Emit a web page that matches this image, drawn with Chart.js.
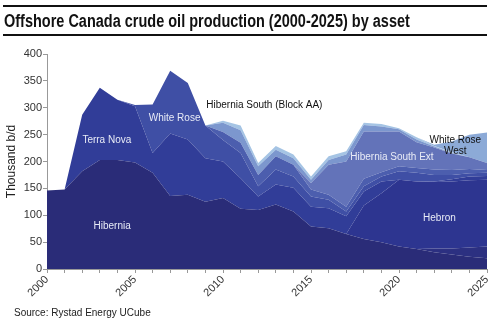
<!DOCTYPE html>
<html>
<head>
<meta charset="utf-8">
<script src="https://cdn.jsdelivr.net/npm/chart.js@4.4.1/dist/chart.umd.min.js"></script>
<style>
  html, body { margin: 0; padding: 0; background: #fff; }
  #wrap { position: relative; width: 500px; height: 325px; overflow: hidden; }
  #chart { position: absolute; left: 0; top: 0; }
  #title {
    position: absolute; left: 3px; top: 5px; width: 484px; height: 27px;
    border-top: 2px solid #111; border-bottom: 2px solid #111;
  }
  #title span {
    position: absolute; left: 1px; top: 0; white-space: nowrap;
    font: bold 18px "Liberation Sans", Arial, sans-serif;
    line-height: 28px; color: #111;
    transform: scaleX(0.805); transform-origin: 0 50%;
  }
  #source {
    position: absolute; left: 14px; top: 307px;
    font: 10px "Liberation Sans", Arial, sans-serif; color: #222;
  }
</style>
</head>
<body>
<div id="wrap">
  <canvas id="chart" width="500" height="325"></canvas>
  <div id="title"><span>Offshore Canada crude oil production (2000-2025) by asset</span></div>
  <div id="source">Source: Rystad Energy UCube</div>
</div>
<script>
// years on the x axis
const years = [2000, 2001, 2002, 2003, 2004, 2005, 2006, 2007, 2008, 2009, 2010, 2011, 2012,
               2013, 2014, 2015, 2016, 2017, 2018, 2019, 2020, 2021, 2022, 2023, 2024, 2025];

// production by asset, thousand b/d
const hibernia     = [146, 148, 182, 203, 203, 198, 179, 136, 138, 125, 132, 112, 110, 120, 107, 79, 76, 65, 56, 50, 42, 37, 31, 27, 23, 20];
const other        = [0, 0, 0, 0, 0, 0, 0, 0, 0, 0, 0, 0, 0, 0, 0, 0, 0, 0, 0, 0, 0, 0, 7, 11, 17, 22];
const hebron       = [0, 0, 0, 0, 0, 0, 0, 0, 0, 0, 0, 0, 0, 0, 0, 0, 0, 0, 62, 91, 124, 126, 124, 125, 125, 124];
const terraNova    = [0, 0, 105, 134, 112, 105, 37, 116, 103, 81, 68, 57, 25, 37, 44, 37, 37, 33, 26, 22, 0, 0, 1, 4, 7, 7];
const whiteRose    = [0, 0, 0, 0, 0, 2, 90, 117, 105, 61, 40, 47, 19, 28, 21, 19, 16, 9, 10, 9, 16, 16, 12, 8, 6, 6];
const northAmethyst = [0, 0, 0, 0, 0, 0, 0, 0, 0, 0, 15, 19, 21, 25, 22, 13, 9, 9, 14, 8, 9, 9, 10, 9, 8, 5];
const hibSouthExt  = [0, 0, 0, 0, 0, 0, 0, 0, 0, 0, 0, 0, 0, 0, 0, 12, 56, 84, 88, 76, 65, 48, 41, 31, 22, 13];
const hibSouthAA   = [0, 0, 0, 0, 0, 0, 0, 0, 0, 0, 17, 23, 16, 12, 12, 6, 9, 13, 12, 9, 4, 5, 2, 1, 0, 0];
const swrExt       = [0, 0, 0, 0, 0, 0, 0, 0, 0, 0, 4, 9, 6, 7, 7, 6, 7, 6, 4, 5, 2, 4, 1, 1, 0, 0];
const whiteRoseWest = [0, 0, 0, 0, 0, 0, 0, 0, 0, 0, 0, 0, 0, 0, 0, 0, 0, 0, 0, 0, 0, 0, 2, 20, 42, 57];

const series = [
    ['Hibernia', hibernia],
    ['Other', other],
    ['Hebron', hebron],
    ['Terra Nova', terraNova],
    ['White Rose', whiteRose],
    ['North Amethyst', northAmethyst],
    ['Hibernia South Ext', hibSouthExt],
    ['Hibernia South (Block AA)', hibSouthAA],
    ['South White Rose Ext', swrExt],
    ['White Rose West', whiteRoseWest]
];

const cores = ['#2a2c78', '#2c3081', '#2d3590', '#313d98', '#3f4fa5',
               '#4c5eae', '#6373b9', '#7c97ce', '#a5c4e4', '#8caad7'];

// text written inside the areas, placed in data units
const rotulos = [
    ['Hibernia', 2003.7, 80, '#e8ebf6'],
    ['Terra Nova', 2003.4, 240, '#e8ebf6'],
    ['White Rose', 2007.25, 280, '#e8ebf6'],
    ['Hibernia South (Block AA)', 2012.35, 304, '#111'],
    ['Hibernia South Ext', 2019.6, 208, '#e8ebf6'],
    ['Hebron', 2022.3, 95, '#e8ebf6'],
    ['White Rose', 2023.2, 239, '#111'],
    ['West', 2023.2, 219, '#111']
];

const rotulosPlugin = {
    id: 'rotulos',
    afterDatasetsDraw(chart) {
        const ctx = chart.ctx;
        const sx = chart.scales.x, sy = chart.scales.y;
        ctx.save();
        ctx.font = '10px "Liberation Sans", Arial, sans-serif';
        ctx.textAlign = 'center';
        ctx.textBaseline = 'middle';
        rotulos.forEach(r => {
            ctx.fillStyle = r[3];
            ctx.fillText(r[0], sx.getPixelForValue(r[1]), sy.getPixelForValue(r[2]));
        });
        ctx.restore();
    }
};

const datasets = series.map((s, i) => ({
    label: s[0],
    data: s[1].map((v, j) => ({ x: years[j], y: v })),
    backgroundColor: cores[i],
    borderWidth: 0,
    pointRadius: 0,
    tension: 0,
    fill: i === 0 ? 'origin' : '-1'
}));

new Chart(document.getElementById('chart'), {
    type: 'line',
    data: { datasets: datasets },
    plugins: [rotulosPlugin],
    options: {
        responsive: false,
        animation: false,
        devicePixelRatio: 1,
        layout: { padding: { top: 54, right: 13, left: 0, bottom: 0 } },
        plugins: { legend: { display: false }, tooltip: { enabled: false } },
        scales: {
            x: {
                type: 'linear',
                min: 2000,
                max: 2025,
                afterFit: s => { s.height = 56; },
                border: { color: '#999' },
                grid: { drawOnChartArea: false, tickLength: 4, color: '#999' },
                ticks: {
                    stepSize: 1,
                    autoSkip: false,
                    minRotation: 45,
                    maxRotation: 45,
                    padding: 0,
                    color: '#333',
                    font: { size: 11, family: '"Liberation Sans", Arial, sans-serif' },
                    callback: v => (v % 5 === 0 ? String(v) : '')
                }
            },
            y: {
                stacked: true,
                min: 0,
                max: 400,
                afterFit: s => { s.width = 47; },
                border: { color: '#999' },
                grid: { drawOnChartArea: false, tickLength: 4, color: '#999' },
                ticks: {
                    stepSize: 50,
                    padding: 1,
                    color: '#333',
                    font: { size: 11, family: '"Liberation Sans", Arial, sans-serif' }
                },
                title: {
                    display: true,
                    text: 'Thousand b/d',
                    color: '#222',
                    padding: { top: 4, bottom: 0 },
                    font: { size: 12, family: '"Liberation Sans", Arial, sans-serif' }
                }
            }
        }
    }
});
</script>
</body>
</html>
